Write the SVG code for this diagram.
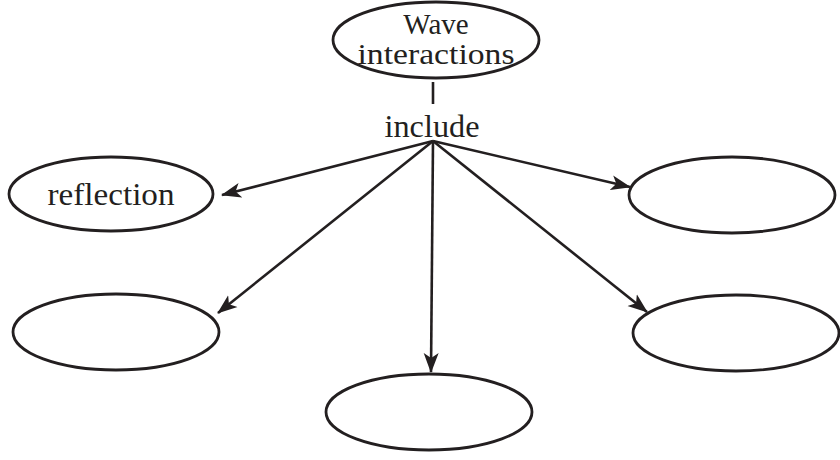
<svg xmlns="http://www.w3.org/2000/svg" width="840" height="460" viewBox="0 0 840 460">
  <defs>
    <style>
      .node ellipse { fill: #ffffff; stroke: #231f20; stroke-width: 2.8; }
      .lbl { font-family: "Liberation Serif", "Times New Roman", serif; font-size: 31px; fill: #231f20; text-anchor: middle; }
      .top { font-size: 29px; }
      .conn line { stroke: #231f20; stroke-width: 2.6; fill: none; }
    </style>
    <marker id="arrow" markerUnits="userSpaceOnUse" markerWidth="22" markerHeight="16" refX="19" refY="7.5" orient="auto" viewBox="0 0 22 15">
      <path d="M0,0 L20,7.5 L0,15 L5,7.5 z" fill="#231f20"/>
    </marker>
  </defs>
  <rect width="840" height="460" fill="#ffffff"/>

  <g id="connectors" class="conn">
    <line x1="433" y1="82" x2="433" y2="104"/>
    <line x1="433" y1="141" x2="222" y2="195" marker-end="url(#arrow)"/>
    <line x1="433" y1="141" x2="630" y2="187" marker-end="url(#arrow)"/>
    <line x1="433" y1="141" x2="218" y2="313" marker-end="url(#arrow)"/>
    <line x1="433" y1="141" x2="647" y2="312" marker-end="url(#arrow)"/>
    <line x1="433" y1="141" x2="431" y2="372" marker-end="url(#arrow)"/>
  </g>

  <g id="wave-interactions" class="node">
    <ellipse cx="436" cy="40" rx="103" ry="38"/>
    <text class="lbl top" x="436" y="34">Wave</text>
    <text class="lbl top" x="436" y="64" textLength="157" lengthAdjust="spacingAndGlyphs">interactions</text>
  </g>

  <g id="include-label">
    <text class="lbl" x="432" y="137" textLength="95" lengthAdjust="spacingAndGlyphs">include</text>
  </g>

  <g id="reflection" class="node">
    <ellipse cx="111" cy="194" rx="102" ry="37"/>
    <text class="lbl" x="111" y="205" textLength="127" lengthAdjust="spacingAndGlyphs">reflection</text>
  </g>

  <g id="blank-top-right" class="node">
    <ellipse cx="732" cy="195" rx="103" ry="38"/>
  </g>

  <g id="blank-mid-left" class="node">
    <ellipse cx="116" cy="332" rx="103" ry="38"/>
  </g>

  <g id="blank-mid-right" class="node">
    <ellipse cx="736" cy="333" rx="103" ry="38"/>
  </g>

  <g id="blank-bottom" class="node">
    <ellipse cx="429" cy="412" rx="103" ry="38"/>
  </g>
</svg>
